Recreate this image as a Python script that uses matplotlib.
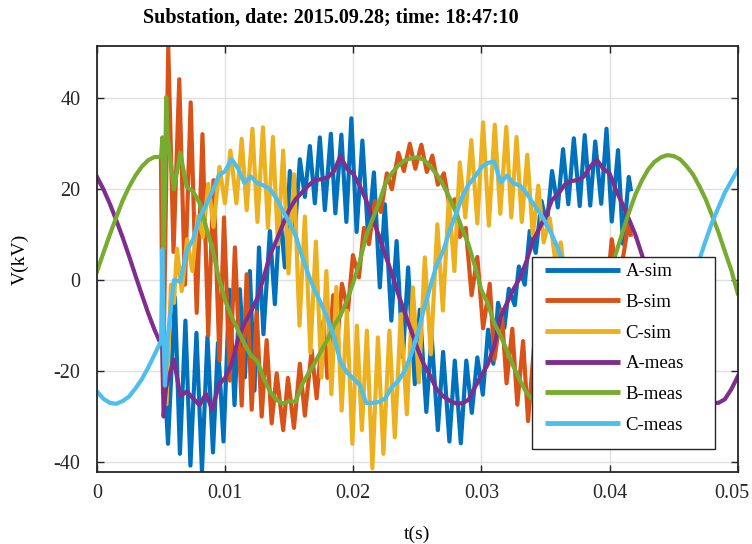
import numpy as np
import matplotlib
matplotlib.use('Agg')
import matplotlib.pyplot as plt
from matplotlib.patches import Rectangle
from matplotlib.transforms import ScaledTranslation

# Measured voltages, sampled every 0.5 ms (extra samples around the fault at 5.1-5.4 ms)
t_meas = np.concatenate([np.arange(0, 5.01, 0.5), [5.1, 5.2, 5.3, 5.4], np.arange(5.5, 50.01, 0.5)])

a_meas = [22.7, 20.0, 16.8, 13.2, 9.4, 5.3, 1.0, -3.2, -7.3, -11.0, -14.2,
          -15.0, -30.0, -26.0, -23.5,
          -22.5, -17.5, -25.5, -24.5, -26.0, -27.5, -25.0, -28.5, -23.0, -21.5,
          -18.5, -13.0, -9.5, -7.0, -4.0, 0.5, 5.5, 8.7, 12.2, 15.5,
          17.8, 19.3, 20.8, 22.0, 22.2, 22.6, 24.0, 27.3, 24.5, 23.4,
          20.8, 17.6, 13.5, 9.8, 5.5, 1.5, -3.0, -7.0, -11.0, -15.0,
          -18.5, -21.0, -24.0, -25.5, -26.5, -27.1, -27.1, -26.3, -23.5, -21.0,
          -18.5, -14.5, -8.0, -5.0, -2.0, 0.5, 4.0, 8.5, 11.3, 14.0,
          17.6, 19.0, 21.0, 21.8, 22.0, 22.8, 25.0, 26.5, 24.5, 23.5,
          19.8, 16.8, 13.5, 10.1, 5.8, 1.5, -3.0, -7.2, -11.0, -14.7,
          -18.0, -20.8, -23.2, -25.0, -26.3, -27.0, -27.0, -26.2, -24.0, -21.2]

b_meas = [1.9, 6.0, 10.0, 13.8, 17.5, 20.5, 23.0, 25.0, 26.4, 27.1, 27.1,
          31.4, 7.0, 20.0, 40.3,
          32.0, 20.0, 28.0, 20.5, 19.5, 17.0, 11.8, 7.0, 0.6, -4.5,
          -8.0, -11.0, -14.0, -16.5, -17.8, -21.5, -24.5, -26.3, -27.2, -26.6,
          -26.8, -23.0, -20.5, -18.2, -15.5, -13.0, -10.0, -7.8, -4.5, -0.5,
          4.0, 9.7, 13.4, 17.0, 21.2, 23.5, 25.2, 26.3, 26.8, 27.0,
          26.5, 25.0, 23.3, 21.0, 18.2, 15.0, 11.3, 7.8, 3.0, -2.2,
          -5.2, -9.5, -12.2, -15.6, -19.0, -22.0, -24.7, -26.3, -27.2, -27.3,
          -26.8, -25.5, -23.5, -21.0, -18.0, -14.5, -10.8, -6.7, -2.5, 1.7,
          5.9, 10.5, 14.8, 18.7, 21.8, 24.3, 26.0, 27.0, 27.5, 27.3,
          26.6, 25.1, 23.3, 20.7, 17.8, 14.2, 10.5, 6.3, 2.2, -2.9]

c_meas = [-24.5, -26.1, -27.0, -27.2, -26.6, -25.6, -23.8, -21.8, -19.2, -16.3, -13.4,
          6.8, -13.0, -23.2, -19.0,
          -13.0, 0.0, -0.3, 6.5, 9.0, 13.8, 16.5, 19.5, 23.0, 24.0,
          26.6, 24.6, 21.4, 22.8, 21.4, 20.8, 20.0, 18.0, 15.3, 12.7,
          9.8, 5.3, 1.2, -2.3, -5.2, -8.5, -12.5, -18.0, -20.3, -21.6,
          -23.0, -27.0, -27.0, -26.8, -26.0, -23.5, -22.2, -20.0, -16.5, -12.0,
          -6.5, -1.5, 3.3, 6.3, 10.7, 14.5, 18.3, 21.0, 22.8, 24.8,
          25.8, 26.1, 21.5, 23.0, 21.3, 20.8, 19.2, 17.0, 15.0, 12.8,
          10.0, 6.8, 2.5, -1.5, -5.5, -9.5, -13.5, -17.0, -20.5, -23.5,
          -25.5, -26.8, -27.2, -26.8, -25.8, -24.0, -21.8, -19.0, -15.8, -12.2,
          -8.2, -4.0, 0.2, 4.5, 8.7, 12.7, 16.0, 19.3, 21.8, 24.2]

# Simulated voltages during the fault: turning points of the oscillation (ms, kV)
t_a_sim = [5.15, 5.54, 6.08, 6.47, 6.90, 7.29, 7.76, 8.19, 8.62, 9.05,
           9.44, 9.87, 10.34, 10.73, 11.15, 11.54, 11.93, 12.29, 12.64, 12.99,
           13.49, 13.88, 14.27, 14.66, 15.05, 15.44, 15.83, 16.22, 16.61, 17.00,
           17.39, 17.78, 18.25, 18.60, 19.07, 19.46, 19.85, 20.26, 20.71, 21.16,
           21.61, 22.07, 22.46, 22.97, 23.38, 23.87, 24.28, 24.80, 25.19, 25.70,
           26.11, 26.60, 27.01, 27.50, 27.92, 28.39, 28.82, 29.25, 29.68, 30.11,
           30.52, 30.93, 31.30, 31.79, 32.14, 32.60, 32.92, 33.38, 33.77, 34.24,
           34.69, 35.10, 35.51, 35.96, 36.37, 36.78, 37.21, 37.67, 38.06, 38.49,
           38.88, 39.35, 39.76, 40.17, 40.66, 41.05, 41.50, 41.65]
a_sim = [-15.0, -36.0, -3.8, -38.2, -8.9, -40.8, -11.6, -42.0, -12.4, -37.9,
         -13.8, -35.5, -2.1, -27.5, -2.0, -21.4, 2.0, -24.3, 7.2, -11.9,
         10.8, -5.3, 15.2, 2.8, 24.0, 10.8, 26.6, 18.3, 29.5, 16.9,
         31.4, 15.4, 32.2, 14.7, 32.0, 12.8, 35.6, 10.6, 30.7, 9.5,
         23.7, -1.6, 16.7, -8.9, 8.6, -17.0, 2.8, -22.9, -6.5, -29.0,
         -12.0, -33.0, -15.8, -35.5, -17.7, -35.9, -17.7, -29.2, -17.0, -25.2,
         -10.9, -18.4, -5.0, -10.5, -1.9, -5.5, 3.0, -1.0, 10.8, 6.0,
         17.4, 12.0, 24.0, 16.0, 28.8, 16.7, 31.2, 16.3, 31.9, 16.4,
         30.5, 16.8, 33.3, 12.9, 28.6, 8.0, 22.7, 20.0]

t_b_sim = [4.99, 5.15, 5.56, 5.97, 6.42, 6.86, 7.31, 7.78, 8.23, 8.68,
           9.09, 9.56, 9.91, 10.37, 10.76, 11.29, 11.68, 12.07, 12.46, 12.85,
           13.24, 13.63, 14.02, 14.53, 14.90, 15.37, 15.83, 16.22, 16.75, 17.14,
           17.67, 17.98, 18.43, 18.76, 19.11, 19.58, 19.97, 20.44, 20.83, 21.22,
           21.68, 22.15, 22.62, 23.01, 23.52, 23.95, 24.41, 24.84, 25.31, 25.74,
           26.17, 26.60, 27.07, 27.50, 27.92, 28.31, 28.78, 29.23, 29.68, 30.13,
           30.65, 31.01, 31.57, 31.96, 32.41, 32.80, 33.25, 33.64, 34.09, 34.48,
           34.94, 35.33, 35.80, 36.19, 36.66, 37.05, 37.52, 37.91, 38.38, 38.77,
           39.23, 39.70, 40.17, 40.72, 41.50, 41.65]
b_sim = [27.1, -25.0, 51.4, 6.2, 44.2, -1.0, 39.1, -7.2, 32.1, -12.2,
         22.0, -17.7, 13.8, -22.1, 7.2, -27.6, 1.3, -28.5, -7.0, -30.0,
         -13.2, -31.5, -20.5, -33.0, -21.5, -32.5, -18.4, -29.8, -15.4, -26.0,
         -9.0, -21.5, -3.3, -13.5, -0.8, -6.7, 5.5, 0.6, 11.5, 7.9,
         17.4, 15.0, 23.5, 20.0, 28.0, 24.0, 30.0, 24.5, 29.8, 23.8,
         27.4, 21.0, 23.5, 16.4, 17.8, 9.5, 11.5, -3.3, 5.1, -10.6,
         -0.8, -17.5, -6.5, -22.7, -10.7, -27.4, -13.4, -31.0, -15.0, -33.0,
         -15.0, -33.0, -12.0, -30.0, -8.0, -26.0, -3.0, -20.0, 1.0, -13.0,
         4.0, -5.0, 9.0, -1.0, 13.0, 10.0]

t_c_sim = [5.15, 5.42, 5.77, 6.01, 6.24, 6.61, 7.03, 7.44, 7.85, 8.27,
           8.68, 9.09, 9.56, 9.98, 10.41, 10.88, 11.29, 11.68, 12.13, 12.52,
           12.95, 13.34, 13.73, 14.12, 14.53, 14.94, 15.37, 15.80, 16.22, 16.65,
           17.08, 17.51, 17.90, 18.29, 18.68, 19.09, 19.50, 19.93, 20.28, 20.67,
           21.06, 21.49, 21.92, 22.35, 22.82, 23.24, 23.71, 24.18, 24.65, 25.12,
           25.58, 26.05, 26.56, 26.99, 27.46, 27.89, 28.31, 28.74, 29.21, 29.68,
           30.13, 30.58, 31.04, 31.47, 31.94, 32.33, 32.74, 33.15, 33.58, 34.01,
           34.44, 34.86, 35.33, 35.76, 36.19, 36.62, 37.05, 37.48, 37.91, 38.34,
           38.77, 39.20, 39.62, 40.05, 40.48, 40.91, 41.34, 41.65]
c_sim = [-12.0, -27.3, -1.0, -5.0, 6.9, -2.4, 9.0, 2.0, 14.0, 9.5,
         21.2, 11.7, 24.9, 16.9, 28.5, 16.9, 31.1, 15.4, 33.3, 12.8,
         33.6, 11.5, 31.5, 7.9, 28.5, 1.5, 23.3, -10.0, 14.0, -16.0,
         8.5, -21.4, 2.0, -25.1, -1.5, -28.7, -6.7, -36.0, -10.0, -33.0,
         -11.1, -41.4, -12.6, -38.2, -11.1, -34.6, -7.5, -29.5, -1.6, -22.5,
         5.0, -16.3, 12.3, -6.7, 18.2, 2.0, 25.9, 13.8, 30.8, 12.5,
         34.7, 12.0, 34.2, 14.6, 33.7, 13.8, 31.5, 12.8, 27.6, 9.8,
         20.8, 8.3, 13.6, 4.4, 8.3, -2.0, 3.0, -8.0, -3.0, -14.0,
         -9.0, -20.0, -15.0, -25.0, -19.0, -28.0, -22.0, -26.0]

labels = ['A-sim', 'B-sim', 'C-sim', 'A-meas', 'B-meas', 'C-meas']
colors = ['#0072BD', '#D95319', '#EDB120', '#7E2F8E', '#77AC30', '#4DBEEE']
x_ticks = [0, 0.01, 0.02, 0.03, 0.04, 0.05]
x_tick_labels = ['0', '0.01', '0.02', '0.03', '0.04', '0.05']
y_ticks = [-40, -20, 0, 20, 40]

plt.rcParams['font.family'] = ['Liberation Serif', 'DejaVu Serif']
plt.rcParams['axes.unicode_minus'] = False

fig = plt.figure(figsize=(7.52, 5.44), dpi=100)
ax = fig.add_axes([0.129, 0.1324, 0.852, 0.783])

series = [(t_a_sim, a_sim), (t_b_sim, b_sim), (t_c_sim, c_sim),
          (t_meas, a_meas), (t_meas, b_meas), (t_meas, c_meas)]
for (t, v), lab, col in zip(series, labels, colors):
    ax.plot(np.asarray(t) / 1000, v, color=col, lw=3.0, label=lab,
            solid_joinstyle='round')

ax.set_xlim(0, 0.05)
ax.set_ylim(-42.2, 51.5)
ax.set_xticks(x_ticks)
ax.set_xticklabels(x_tick_labels)
ax.set_yticks(y_ticks)
ax.grid(True, color='#e0e0e0', lw=1.0)
ax.set_axisbelow(True)
ax.tick_params(direction='in', top=True, right=True, length=5, width=1.0,
               labelsize=14.5, colors='#262626')
ax.tick_params(axis='y', pad=12)
ax.tick_params(axis='x', pad=9)
for s in ax.spines.values():
    s.set_color('#262626')
    s.set_linewidth(1.3)

# last x label sits slightly left so it stays inside the figure
last = ax.get_xticklabels()[-1]
last.set_transform(last.get_transform() + ScaledTranslation(-6 / 100, 0, fig.dpi_scale_trans))

ax.set_xlabel('t(s)', fontsize=14, labelpad=16)
ax.set_ylabel('V(kV)', fontsize=14, labelpad=18)
fig.text(0.4395, 0.967, 'Substation, date: 2015.09.28; time: 18:47:10',
         fontsize=14.5, fontweight='bold', ha='center', va='center')

# legend frame drawn as a box, entries placed inside it
ax.add_patch(Rectangle((0.6786, 0.054), 0.2855, 0.4507, transform=ax.transAxes,
                       facecolor='white', edgecolor='#262626', lw=1.0, zorder=4))
leg = ax.legend(loc='upper left', bbox_to_anchor=(0.699, 0.490), frameon=False,
                fontsize=13.5, handlelength=4.0, handletextpad=0.3,
                labelspacing=0.72, borderpad=0, borderaxespad=0)
for h in leg.get_lines():
    h.set_linewidth(3.5)
    h.set_solid_capstyle('butt')
leg.set_zorder(5)

fig.savefig('out.png', dpi=100)
